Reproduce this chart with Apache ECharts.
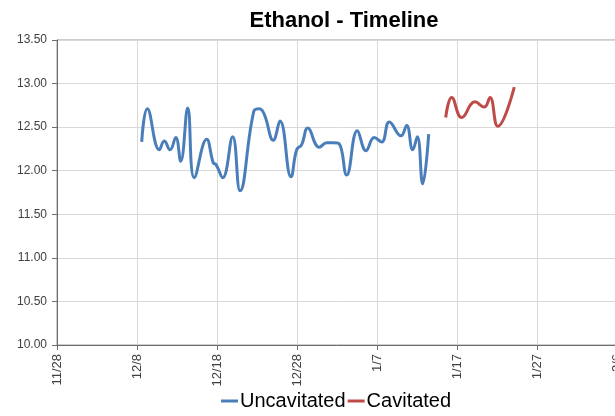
<!DOCTYPE html>
<html>
<head>
<meta charset="utf-8">
<script src="https://cdn.jsdelivr.net/npm/echarts@6/dist/echarts.min.js"></script>
<style>
  html, body { margin: 0; padding: 0; background: #fff; }
  #chart { width: 615px; height: 416px; }
</style>
</head>
<body>
<div id="chart"></div>
<script>
// Timeline start: x values are days elapsed since 11/28
const startDate = Date.UTC(2013, 10, 28);

// Uncavitated readings: day offset and value
const uncavDays = [10.59, 11.29, 12.79, 13.41, 14.13, 14.84, 15.46, 16.34, 17.16, 18.71,
  19.54, 19.88, 20.71, 21.96, 22.88, 24.6, 25.3, 25.9, 27.04, 27.88, 29.25, 29.96, 30.59,
  31.34, 32.79, 33.71, 34.54, 35.25, 36.21, 37.54, 38.63, 39.66, 40.59, 41.54, 43.0,
  43.71, 44.46, 45.04, 45.71, 46.46];
const uncavValues = [12.33, 12.71, 12.24, 12.34, 12.24, 12.38, 12.11, 12.72, 11.92, 12.36,
  12.09, 12.07, 11.92, 12.39, 11.77, 12.68, 12.71, 12.65, 12.35, 12.57, 11.93, 12.24, 12.30,
  12.49, 12.27, 12.32, 12.32, 12.31, 11.95, 12.46, 12.23, 12.38, 12.33, 12.56, 12.40,
  12.52, 12.24, 12.39, 11.85, 12.42];

// Cavitated readings: day offset and value
const cavDays = [48.59, 49.34, 50.59, 52.25, 53.41, 54.13, 55.09, 57.16];
const cavValues = [12.61, 12.84, 12.61, 12.79, 12.73, 12.84, 12.51, 12.96];

const seriesNames = ['Uncavitated', 'Cavitated'];
const yTicks = { min: 10, max: 13.5, step: 0.5 };
const xTicks = { min: 0, max: 70, step: 10 };

const pair = (xs, ys) => xs.map((x, i) => [x, ys[i]]);

const chart = echarts.init(document.getElementById('chart'));
chart.setOption({
  animation: false,
  backgroundColor: '#ffffff',
  title: {
    text: 'Ethanol - Timeline',
    left: 339,
    top: 5,
    textAlign: 'center',
    textStyle: { fontFamily: 'Liberation Sans', fontWeight: 'bold', fontSize: 22, color: '#000' }
  },
  legend: {
    bottom: 0,
    left: 216,
    icon: 'rect',
    itemWidth: 17,
    itemHeight: 3,
    itemGap: 2,
    textStyle: { fontFamily: 'Liberation Sans', fontSize: 20, color: '#000', padding: [0, 0, 0, -3] },
    data: seriesNames
  },
  grid: {
    left: 57, top: 40, right: -2, bottom: 71,
    outerBoundsMode: 'none',
    containLabel: false,
    show: true, borderColor: '#9a9a9a', borderWidth: 1, backgroundColor: 'transparent'
  },
  xAxis: {
    type: 'value',
    min: xTicks.min, max: xTicks.max, interval: xTicks.step,
    axisLine: { show: true, lineStyle: { color: '#6e6e6e', width: 1 } },
    axisTick: { show: true, length: 5, lineStyle: { color: '#6e6e6e' } },
    splitLine: { show: true, lineStyle: { color: '#d9d9d9', width: 1 } },
    axisLabel: {
      rotate: 90, margin: 9, fontFamily: 'Liberation Sans', fontSize: 13, color: '#404040',
      showMaxLabel: true, showMinLabel: true,
      formatter: v => {
        const d = new Date(startDate + v * 864e5);
        return (d.getUTCMonth() + 1) + '/' + d.getUTCDate();
      }
    }
  },
  yAxis: {
    type: 'value',
    min: yTicks.min, max: yTicks.max, interval: yTicks.step,
    axisLine: { show: true, lineStyle: { color: '#6e6e6e', width: 1 } },
    axisTick: { show: true, length: 5, lineStyle: { color: '#6e6e6e' } },
    splitLine: { show: true, lineStyle: { color: '#d9d9d9', width: 1 } },
    axisLabel: {
      margin: 10, fontFamily: 'Liberation Sans', fontSize: 12, color: '#404040',
      formatter: v => v.toFixed(2)
    }
  },
  series: [
    {
      name: seriesNames[0], type: 'line', smooth: 0.45, showSymbol: false,
      data: pair(uncavDays, uncavValues),
      lineStyle: { color: '#4a7ebb', width: 3 },
      itemStyle: { color: '#4a7ebb' }
    },
    {
      name: seriesNames[1], type: 'line', smooth: 0.45, showSymbol: false,
      data: pair(cavDays, cavValues),
      lineStyle: { color: '#be4b48', width: 3 },
      itemStyle: { color: '#be4b48' }
    }
  ]
});
</script>
</body>
</html>
